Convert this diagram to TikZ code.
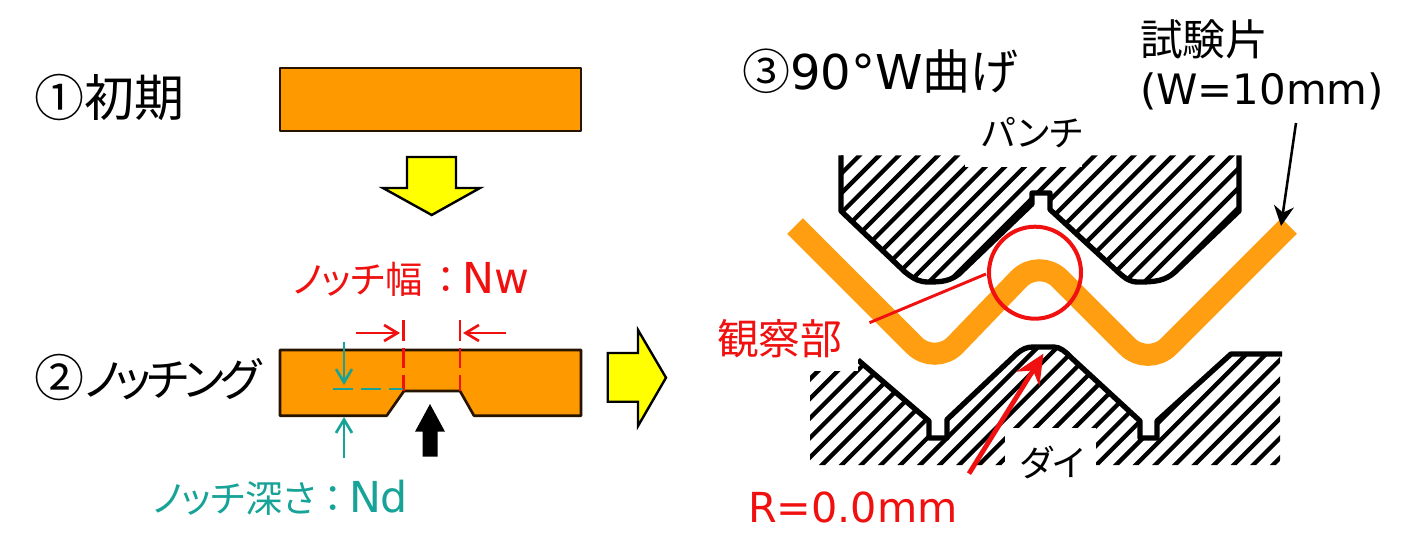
\documentclass[tikz,border=0pt]{standalone}
\usepackage{fontspec}
\usetikzlibrary{arrows.meta,shapes.geometric}
\newfontfamily\jpf[RawFeature=+palt]{Noto Sans CJK JP}
\newfontfamily\jpt[RawFeature=+palt,LetterSpace=-9.5]{Noto Sans CJK JP}
\newfontfamily\latf{DejaVu Sans}
\definecolor{plate}{HTML}{FF9900}
\definecolor{strip}{HTML}{FF9E10}
\definecolor{teal1}{HTML}{17A398}
\definecolor{redA}{HTML}{F01010}
\definecolor{yel}{HTML}{FFFF00}
\newcommand{\fs}[1]{\fontsize{#1}{#1}\selectfont}
\tikzset{
  x=.75pt,y=-.75pt,
  platebox/.style={draw=black!85!orange,line width=2pt,fill=plate,line join=round},
  yelarrow/.style={draw=black,line width=1.8pt,fill=yel,line join=miter},
  lab/.style={inner sep=0pt,outer sep=0pt,anchor=base west},
  hatchline/.style={line width=3.2pt,black},
  tool/.style={line width=4pt,black,line join=round},
  rbarb/.style={draw=redA,line width=2pt,-{Straight Barb[length=10pt,width=12pt,line width=2pt]}},
  tbarb/.style={draw=teal1,line width=2pt,-{Straight Barb[length=10pt,width=12pt,line width=2pt]}},
}
\begin{document}
\begin{tikzpicture}
\useasboundingbox (0,0) rectangle (1422,556);
\fill[white] (0,0) rectangle (1422,556);

% ---- left: initial plate
\node[lab] (t1) at (35,117) {\fs{37.5}\jpf ①初期};
\path[platebox] (280,68) rectangle (581,131);
\path[yelarrow] (407,157) -- (456,157) -- (456,188) -- (480,188) -- (431.7,215) -- (383,188) -- (407,188) -- cycle;

% ---- left: notched plate
\node[lab,text=redA] (t2) at (293,293) {\fs{28}\jpf ノッチ幅\hspace{11pt}：\hspace{5pt}\fs{32}\latf Nw};
\node[lab] (t3) at (35,396) {\fs{37.5}\jpf ②\fs{34}\jpt ノッチング};
\path[platebox] (280,350) -- (581,350) -- (581,415.7) -- (474,415.7) -- (460,391) -- (404,391) -- (386.7,415.7) -- (280,415.7) -- cycle;
\path[yelarrow] (607.7,353) -- (638,353) -- (638,330) -- (666,377.7) -- (638,426) -- (638,401.7) -- (607.7,401.7) -- cycle;
\fill[black] (422.7,456.7) -- (437.7,456.7) -- (437.7,431.7) -- (445,431.7) -- (430,404) -- (415,431.7) -- (422.7,431.7) -- cycle;

\coordinate (wl) at (403.3,320);
\coordinate (wlb) at (403.3,391);
\coordinate (wr) at (460,320);
\coordinate (wrb) at (460,391);
\draw[redA,line width=2pt] (wl) -- ++(0,21);
\draw[redA,line width=2pt] (wr) -- ++(0,21);
\draw[redA,line width=2pt,dash pattern=on 15pt off 5pt] (403.3,348) -- (wlb);
\draw[redA,line width=2pt,dash pattern=on 15pt off 5pt] (460,348) -- (wrb);
\coordinate (wa1) at (356,333); \coordinate (wa1e) at (400,333);
\coordinate (wa2) at (506,333); \coordinate (wa2e) at (463,333);
\draw[rbarb] (wa1) -- (wa1e);
\draw[rbarb] (wa2) -- (wa2e);

\coordinate (d1) at (344,341.7); \coordinate (d1e) at (344,385);
\coordinate (d2) at (344,458); \coordinate (d2e) at (344,417);
\coordinate (d3) at (333,389); \coordinate (d3e) at (403,389);
\draw[tbarb] (d1) -- (d1e);
\draw[tbarb] (d2) -- (d2e);
\draw[teal1,line width=2pt,dash pattern=on 15pt off 6pt] (d3) -- (d3e);
\node[lab,text=teal1] (t4) at (153,512) {\fs{28}\jpf ノッチ深さ\hspace{6pt}：\hspace{5pt}\fs{32}\latf Nd};

% ---- right: punch
\begin{scope}
\clip (841,155.5) -- (841,211) -- (905,272) .. controls (915,280) and (920,282) .. (929,282) .. controls (942,282) and (950,281) .. (959,274) -- (1032,204) -- (1032,193) -- (1050,193) -- (1050,209.5) -- (1118,272) .. controls (1126,279) and (1130,282) .. (1138,282) .. controls (1155,282) and (1165,281) .. (1175,272) -- (1239,211) -- (1239,155.5) -- cycle;
\foreach \k in {-1,...,27} {
  \pgfmathsetmacro{\c}{995.3+19.6*\k}
  \draw[hatchline] (800,\c-800) -- (1300,\c-1300);
}
\end{scope}
\draw[tool] (841,155.5) -- (841,211) -- (905,272) .. controls (915,280) and (920,282) .. (929,282) .. controls (942,282) and (950,281) .. (959,274) -- (1032,204) -- (1032,193) -- (1050,193) -- (1050,209.5) -- (1118,272) .. controls (1126,279) and (1130,282) .. (1138,282) .. controls (1155,282) and (1165,281) .. (1175,272) -- (1239,211) -- (1239,155.5);
\fill[white] (965,140) rectangle (1082,167);
\node[lab] (t5) at (982,147) {\fs{27}\jpf パンチ};

% ---- right: die
\begin{scope}
\clip (810,371) -- (858,360) -- (929,421) -- (929,438) -- (947,438) -- (947,419.5) -- (1016.5,354) .. controls (1022,349) and (1027,347) .. (1033,347) -- (1054,347) .. controls (1060,347) and (1066,352) .. (1070.5,357) -- (1140,421) -- (1140,438) -- (1157,438) -- (1157,421) -- (1231,354) -- (1280,354) -- (1280,465) -- (810,465) -- cycle;
\foreach \k in {-2,...,30} {
  \pgfmathsetmacro{\c}{1169.4+19.6*\k}
  \draw[hatchline] (800,\c-800) -- (1300,\c-1300);
}
\end{scope}
\draw[tool] (858,360) -- (929,421) -- (929,438) -- (947,438) -- (947,419.5) -- (1016.5,354) .. controls (1022,349) and (1027,347) .. (1033,347) -- (1054,347) .. controls (1060,347) and (1066,352) .. (1070.5,357) -- (1140,421) -- (1140,438) -- (1157,438) -- (1157,421) -- (1231,354) -- (1282,354);
\fill[white] (1005,428) rectangle (1096,468);
\fill[white] (715,315) rectangle (858,371);
\node[lab] (t6) at (1020,476) {\fs{27}\jpf ダイ};

% ---- strip
\coordinate (s0) at (795,226);
\coordinate (s1) at (935,366);
\coordinate (s2) at (1039,258);
\coordinate (s3) at (1148,367);
\coordinate (s4) at (1289,226);
\draw[strip,line width=16.5pt,rounded corners=22pt] (s0) -- (s1) -- (s2) -- (s3) -- (s4);

% ---- right: labels and pointers
\node[lab] (t7) at (742,90) {\fs{36}\jpf ③\latf 90°W\jpf 曲げ};
\node[lab] (t8) at (1140,56) {\fs{32}\jpf 試験片};
\node[lab] (t9) at (1140,105) {\fs{31.4}\latf (W=10mm)};
\coordinate (tp) at (1296,123);
\coordinate (tpe) at (1281,226);
\draw[black,line width=1.9pt,-{Stealth[length=15pt,width=15pt]}] (tp) -- (tpe);

\node[lab,text=redA] (t10) at (717,354) {\fs{31.3}\jpf 観察部};
\node[draw=redA,line width=3pt,circle,minimum size=69pt,inner sep=0pt] (cir) at (1035,272.7) {};
\coordinate (lead) at (869.5,322.7);
\draw[redA,line width=2.2pt] (cir) ++(-49,1.3) -- (lead);

\coordinate (rs) at (969,473.6);
\coordinate (re) at (1043.5,353.6);
\draw[redA,line width=3.6pt,-{Stealth[length=22pt,width=20pt]}] (rs) -- (re);
\node[lab,text=redA] (t11) at (748,522) {\fs{31}\latf R=0.0mm};
\end{tikzpicture}
\end{document}
